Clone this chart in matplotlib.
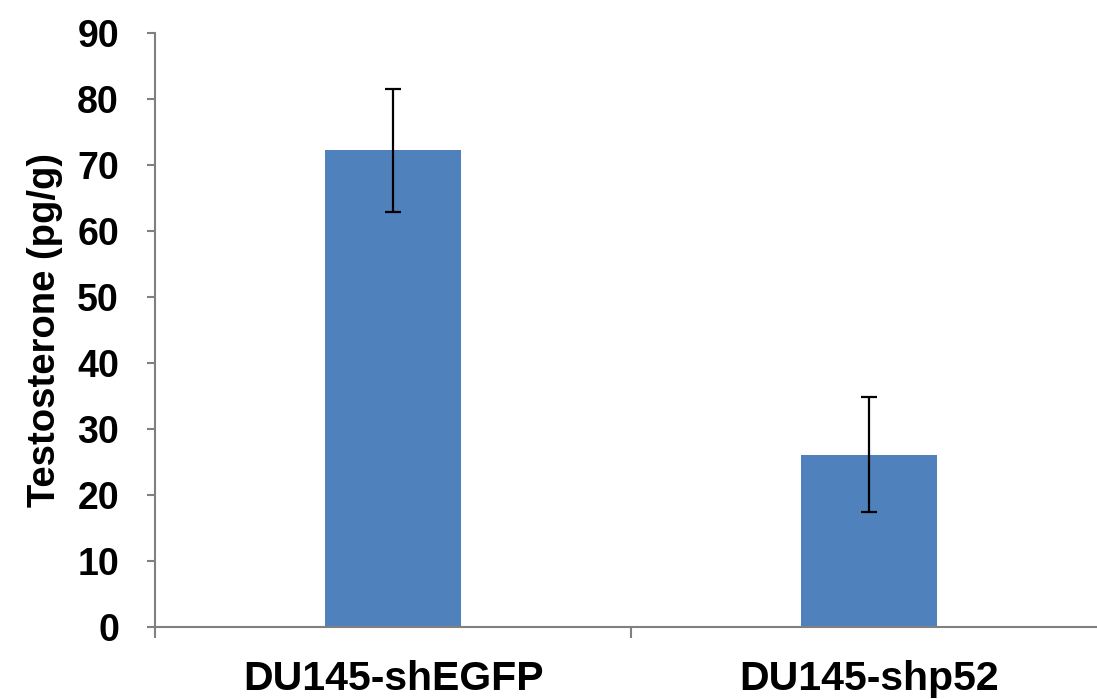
import matplotlib
matplotlib.use("Agg")
import matplotlib.pyplot as plt
import numpy as np

# data
groups = ["DU145-shEGFP", "DU145-shp52"]
testosterone = [72.2, 26.1]
errors = [9.3, 8.7]
y_ticks = list(range(0, 100, 10))

plt.rcParams['font.family'] = ['Liberation Sans', 'DejaVu Sans']
plt.rcParams['font.weight'] = 'bold'

fig = plt.figure(figsize=(10.97, 6.99), dpi=100)
# x axis runs a little past the right edge of the picture, as in the original
ax = fig.add_axes([0.1413, 0.103, 0.868, 0.8498])

x = np.arange(len(groups))
ax.bar(x, testosterone, width=0.285, color='#4F81BD', zorder=2)
ax.errorbar(x, testosterone, yerr=errors, fmt='none', ecolor='black',
            elinewidth=1.6, capsize=6, capthick=1.6, zorder=3)

ax.set_xlim(-0.5, 1.5)
ax.set_ylim(0, 90)
ax.set_yticks(y_ticks)
ax.set_xticks(x)
ax.set_xticklabels(groups)
ax.set_xticks([-0.5, 0.5, 1.5], minor=True)

for s in ['top', 'right']:
    ax.spines[s].set_visible(False)
for s in ['left', 'bottom']:
    ax.spines[s].set_color('#808080')
    ax.spines[s].set_linewidth(1.5)

ax.tick_params(axis='y', direction='out', length=6, width=1.5, color='#808080',
               labelsize=27, pad=20)
ax.tick_params(axis='x', which='major', length=0, labelsize=29.5, pad=24)
ax.tick_params(axis='x', which='minor', direction='out', length=8, width=1.5,
               color='#808080')

ax.set_ylabel("Testosterone (pg/g)", fontsize=27.5, fontweight='bold', labelpad=10)

for lab in ax.get_yticklabels() + ax.get_xticklabels():
    lab.set_fontweight('bold')

fig.savefig("out.png", dpi=100)
